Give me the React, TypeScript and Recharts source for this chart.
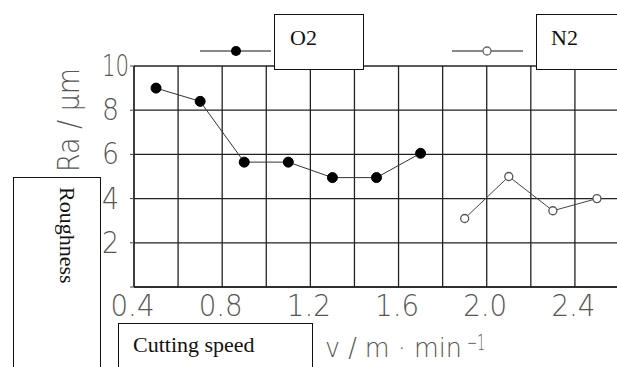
import { CartesianGrid, Line, LineChart, XAxis, YAxis } from 'recharts'

// cutting speed (m/min) and roughness Ra (um)
const o2Speed = [0.5, 0.7, 0.9, 1.1, 1.3, 1.5, 1.7]
const o2Ra = [9.0, 8.4, 5.65, 5.65, 4.95, 4.95, 6.05]
const n2Speed = [1.9, 2.1, 2.3, 2.5]
const n2Ra = [3.1, 5.0, 3.45, 4.0]

const xTicks = [0.4, 0.6, 0.8, 1.0, 1.2, 1.4, 1.6, 1.8, 2.0, 2.2, 2.4, 2.6]
const xLabelled = [0.4, 0.8, 1.2, 1.6, 2.0, 2.4]
const yTicks = [0, 2, 4, 6, 8, 10]

const o2Data = o2Speed.map((v, i) => ({ v, ra: o2Ra[i] }))
const n2Data = n2Speed.map((v, i) => ({ v, ra: n2Ra[i] }))

const thinFont = "'DejaVu Sans', sans-serif"
const serif = "'Liberation Serif', 'Times New Roman', serif"

const renderXTick = (props: any) => {
  const { x, y, payload } = props
  const val = Number(payload.value)
  if (!xLabelled.some((t) => Math.abs(t - val) < 1e-6)) return <g />
  return (
    <text
      x={x - 1.5}
      y={y + 21}
      textAnchor="middle"
      fontFamily={thinFont}
      fontWeight={200}
      fontSize={30}
      fill="#555"
      textLength={44}
      lengthAdjust="spacingAndGlyphs"
    >
      {val.toFixed(1)}
    </text>
  )
}

const renderYTick = (props: any) => {
  const { x, y, payload } = props
  if (Number(payload.value) === 0) return <g />
  const label = String(payload.value)
  return (
    <text
      x={x - 28}
      y={y + 10}
      textAnchor="start"
      fontFamily={thinFont}
      fontWeight={200}
      fontSize={30}
      fill="#555"
      textLength={label.length > 1 ? 27 : 17}
      lengthAdjust="spacingAndGlyphs"
    >
      {label}
    </text>
  )
}

const boxStyle: React.CSSProperties = {
  position: 'absolute',
  background: '#fff',
  border: '1.5px solid #111',
  boxSizing: 'border-box',
  fontFamily: serif,
  fontSize: 22,
  color: '#111',
}

export default function App() {
  return (
    <div
      style={{
        position: 'absolute',
        left: 0,
        top: 0,
        width: 617,
        height: 367,
        overflow: 'hidden',
        background: '#fff',
      }}
    >
      <LineChart
        width={660}
        height={367}
        margin={{ top: 66, left: 133, right: 41, bottom: 79 }}
      >
        <CartesianGrid stroke="#222" strokeWidth={1.3} />
        <XAxis
          type="number"
          dataKey="v"
          domain={[0.4, 2.6]}
          ticks={xTicks}
          interval={0}
          height={1}
          axisLine={{ stroke: '#222', strokeWidth: 1.3 }}
          tickLine={false}
          tick={renderXTick}
        />
        <YAxis
          type="number"
          domain={[0, 10]}
          ticks={yTicks}
          interval={0}
          width={1}
          tickSize={4}
          tickMargin={0}
          axisLine={{ stroke: '#222', strokeWidth: 1.3 }}
          tickLine={{ stroke: '#444' }}
          tick={renderYTick}
        />
        <Line
          data={o2Data}
          dataKey="ra"
          type="linear"
          stroke="#333"
          strokeWidth={1}
          dot={{ r: 5, fill: '#000', stroke: '#000', strokeWidth: 1 }}
          isAnimationActive={false}
        />
        <Line
          data={n2Data}
          dataKey="ra"
          type="linear"
          stroke="#444"
          strokeWidth={1}
          dot={{ r: 4, fill: '#fff', stroke: '#555', strokeWidth: 1.3 }}
          isAnimationActive={false}
        />
      </LineChart>

      <svg
        width={617}
        height={367}
        style={{ position: 'absolute', left: 0, top: 0, pointerEvents: 'none' }}
      >
        {/* legend samples */}
        <line x1={200} y1={51} x2={271} y2={51} stroke="#888" strokeWidth={2} />
        <circle cx={236} cy={51} r={5} fill="#000" />
        <line x1={452} y1={51} x2={523} y2={51} stroke="#888" strokeWidth={2} />
        <circle cx={487} cy={51} r={4} fill="#fff" stroke="#666" strokeWidth={1.3} />

        {/* axis titles */}
        <text
          transform="translate(79,172) rotate(-90)"
          fontFamily={thinFont}
          fontWeight={200}
          fontSize={30}
          fill="#555"
          textLength={104}
          lengthAdjust="spacingAndGlyphs"
        >
          Ra / μm
        </text>
        <text
          x={325}
          y={357}
          fontFamily={thinFont}
          fontWeight={200}
          fontSize={26}
          fill="#555"
          textLength={137}
          lengthAdjust="spacingAndGlyphs"
        >
          v / m · min
        </text>
        <text
          x={467}
          y={350}
          fontFamily={thinFont}
          fontWeight={200}
          fontSize={22}
          fill="#555"
          textLength={18}
          lengthAdjust="spacingAndGlyphs"
        >
          −1
        </text>
      </svg>

      <div style={{ ...boxStyle, left: 274, top: 14, width: 90, height: 56 }}>
        <span style={{ position: 'absolute', left: 15, top: 10 }}>O2</span>
      </div>
      <div style={{ ...boxStyle, left: 536, top: 14, width: 100, height: 56 }}>
        <span style={{ position: 'absolute', left: 14, top: 10 }}>N2</span>
      </div>
      <div style={{ ...boxStyle, left: 13, top: 177, width: 88, height: 220 }}>
        <span
          style={{
            position: 'absolute',
            left: 42,
            top: 9,
            writingMode: 'vertical-rl',
            lineHeight: 1,
          }}
        >
          Roughness
        </span>
      </div>
      <div style={{ ...boxStyle, left: 118, top: 323, width: 195, height: 80 }}>
        <span style={{ position: 'absolute', left: 14, top: 8 }}>Cutting speed</span>
      </div>
    </div>
  )
}
